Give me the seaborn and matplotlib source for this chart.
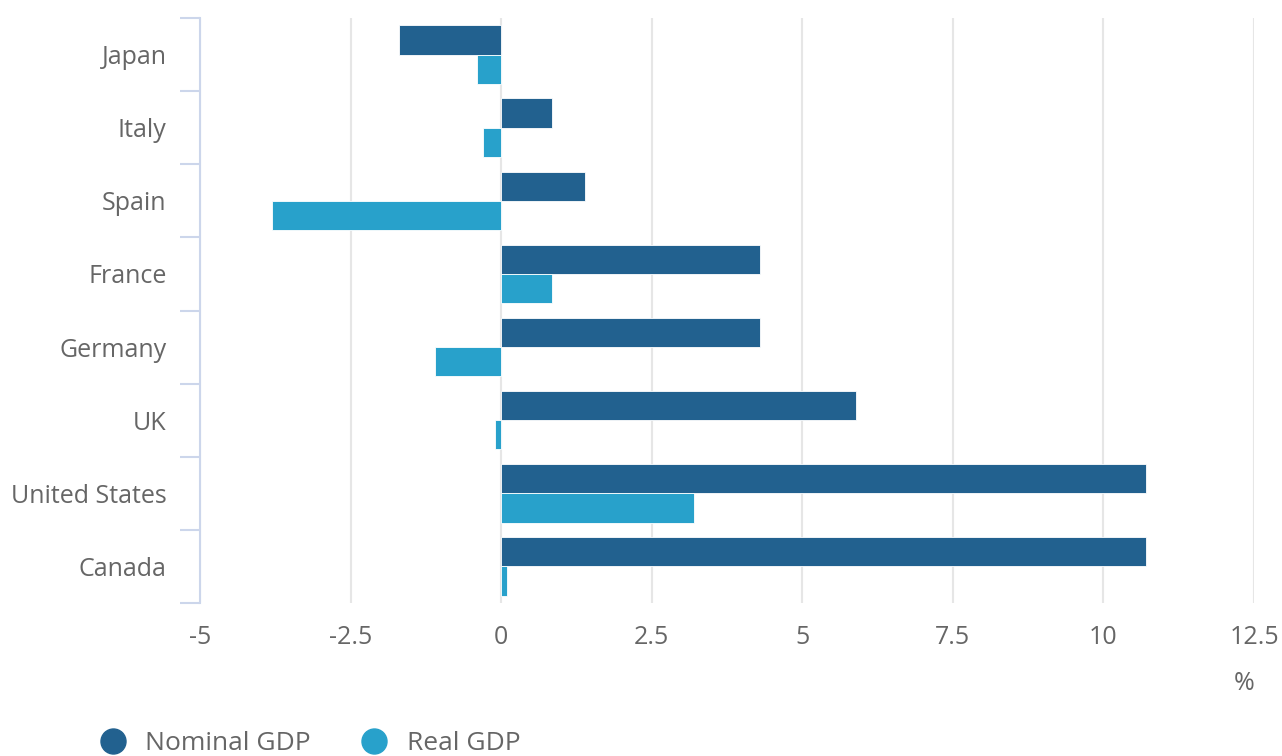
import matplotlib
matplotlib.use("Agg")
import matplotlib.pyplot as plt
import seaborn as sns
import pandas as pd
import numpy as np
from matplotlib.lines import Line2D
from matplotlib.ticker import FixedLocator

countries = ["Japan", "Italy", "Spain", "France", "Germany", "UK", "United States", "Canada"]
nominal_gdp = [-1.7, 0.85, 1.4, 4.3, 4.3, 5.9, 10.7, 10.7]
real_gdp = [-0.4, -0.3, -3.8, 0.85, -1.1, -0.1, 3.2, 0.1]
series_names = ["Nominal GDP", "Real GDP"]
x_ticks = [-5, -2.5, 0, 2.5, 5, 7.5, 10, 12.5]
x_tick_labels = ["-5", "-2.5", "0", "2.5", "5", "7.5", "10", "12.5"]

df = pd.DataFrame({
    "country": countries * 2,
    "value": nominal_gdp + real_gdp,
    "series": [series_names[0]] * len(countries) + [series_names[1]] * len(countries),
})

colors = {"Nominal GDP": "#22618f", "Real GDP": "#28a1cb"}

sns.set_theme(style="white")
plt.rcParams["font.family"] = ["Open Sans", "DejaVu Sans"]

fig = plt.figure(figsize=(12.82, 7.56), dpi=100)
ax = fig.add_axes([200 / 1282, 1 - 603 / 756, (1254 - 200) / 1282, 585 / 756])

sns.barplot(data=df, y="country", x="value", hue="series", order=countries,
            hue_order=series_names, palette=colors, orient="h", width=0.8,
            saturation=1, edgecolor="white", linewidth=0.6, ax=ax, legend=False, zorder=3)

ax.set_xlim(-5, 12.5)
ax.set_ylim(len(countries) - 0.5, -0.5)
ax.set_xticks(x_ticks)
ax.set_xticklabels(x_tick_labels)
ax.set_xlabel("")
ax.set_ylabel("")

for s in ["top", "right", "bottom"]:
    ax.spines[s].set_visible(False)
ax.spines["left"].set_color("#ccd6eb")
ax.spines["left"].set_linewidth(1.5)

ax.grid(axis="x", color="#e6e6e6", linewidth=1.5, zorder=0)
ax.grid(axis="y", visible=False)
ax.set_axisbelow(True)

ax.tick_params(axis="x", length=0, pad=16, labelsize=18, labelcolor="#666666")
ax.tick_params(axis="y", which="major", length=0, pad=24, labelsize=18, labelcolor="#666666")
ax.yaxis.set_minor_locator(FixedLocator(np.arange(-0.5, len(countries) + 0.5, 1)))
ax.tick_params(axis="y", which="minor", length=14.4, width=1.5, color="#ccd6eb", left=True)

fig.text(1244 / 1282, 1 - 684 / 756, "%", ha="center", va="center", fontsize=18, color="#666666")

handles = [Line2D([0], [0], marker="o", linestyle="", markersize=18,
                  markerfacecolor=colors[n], markeredgecolor=colors[n]) for n in series_names]
fig.legend(handles, series_names, loc="center left", bbox_to_anchor=(100 / 1282, 1 - 744 / 756),
           ncol=2, frameon=False, fontsize=19, labelcolor="#666666", handlelength=1.0,
           handletextpad=0.72, columnspacing=1.9, borderaxespad=0, borderpad=0)

fig.savefig("out.png", dpi=100)
